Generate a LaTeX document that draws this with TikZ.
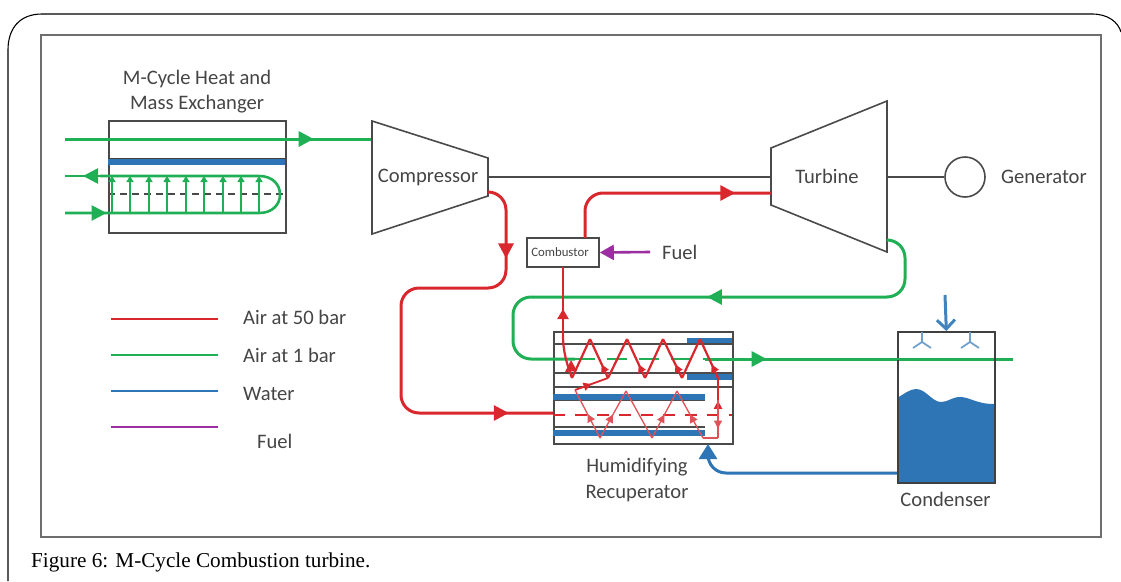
\documentclass[tikz,border=0pt]{standalone}
\usepackage{fontspec}
\setmainfont{Carlito}
\newfontfamily\capfont{Liberation Serif}
\usetikzlibrary{arrows.meta,decorations.markings}
\definecolor{rd}{HTML}{D9272E}
\definecolor{gn}{HTML}{1FAF54}
\definecolor{bl}{HTML}{2E75B6}
\definecolor{pu}{HTML}{9B2FA0}
\definecolor{gy}{HTML}{4A4A4A}
\definecolor{tx}{HTML}{454545}
\tikzset{
  x=1pt,y=-1pt,
  label text/.style={text=tx,font=\fontsize{20.6}{25}\selectfont,inner sep=0pt,align=center},
  body/.style={draw=gy,line width=1.6pt,fill=white},
  plate/.style={draw=gy,line width=1.5pt},
  air hi/.style={draw=rd,line width=3pt,rounded corners=18pt},
  air lo/.style={draw=gn,line width=3pt,rounded corners=18pt},
  water/.style={draw=bl,line width=3pt,rounded corners=18pt},
  tipat/.style 2 args={postaction={decorate,decoration={markings,mark=at position #1 with {\arrow{Triangle[length=#2,width=#2]}}}}},
  big tip/.style={tipat={#1}{15pt}},
  small tip/.style={tipat={#1}{8pt}},
  zig/.style={draw=rd,line width=2.2pt,line join=round},
  thinzig/.style={draw=rd!80!white,line width=1.3pt,line join=round},
}
\begin{document}
\begin{tikzpicture}
\useasboundingbox (0,0) rectangle (1121,581);
% page frame
\draw[black,line width=1.1pt] (8,581) -- (8,50) .. controls (8,28) and (20,14) .. (42,14) -- (1092,14) .. controls (1108,14) and (1118,22) .. (1121,32);
\node[draw=gy!80!white,line width=2.2pt,minimum width=1060pt,minimum height=502pt,inner sep=0pt,anchor=north west] (panel) at (40,34) {};
\node[anchor=west,inner sep=0pt,font=\capfont\fontsize{21.2}{24}\selectfont] (caption) at (31,562.5) {Figure 6: M-Cycle Combustion turbine.};

% Heat and mass exchanger
\node[body,minimum width=177pt,minimum height=112pt,inner sep=0pt,anchor=north west] (hx) at (108,120) {};
\node[label text,anchor=south] (hxt) at (197,113) {M-Cycle Heat and\\Mass Exchanger};
\fill[bl] (108,159) rectangle (285,165);
\draw[black!75,line width=1.2pt] (108,158.5) -- (285,158.5);
\draw[gy,line width=1.4pt,dash pattern=on 7pt off 5pt] (108,194) -- (285,194);
\coordinate (hxin) at (65,139); \coordinate (comp in) at (372,139);
\draw[air lo,big tip=0.81] (hxin) -- (comp in);
\coordinate (loopa) at (65,213); \coordinate (loopb) at (65,176);
\draw[gn,line width=2.6pt,big tip=0.1] (loopa) -- (259,213) .. controls (272,213) and (280,205) .. (280,194.5) .. controls (280,184) and (272,176) .. (259,176) -- (100,176);
\draw[gn,line width=2.6pt,-{Triangle[length=15pt,width=15pt]}] (105,176) -- (83,176);
\draw[gn,line width=2.6pt] (85,176) -- (loopb);
\foreach \i/\xx in {1/112,2/130,3/149,4/167,5/186,6/204,7/223,8/241,9/259}{
  \coordinate (ub\i) at (\xx,213); \coordinate (ut\i) at (\xx,176);
  \draw[gn,line width=2pt,-{Triangle[length=6pt,width=7pt]}] (ub\i) -- (ut\i);
}

% Compressor and turbine
\coordinate (c1) at (372,121); \coordinate (c2) at (488,158); \coordinate (c3) at (488,196); \coordinate (c4) at (372,234);
\draw[body] (c1) -- (c2) -- (c3) -- (c4) -- cycle;
\node[label text] (comp) at (428,177) {Compressor};
\coordinate (t1) at (771,148); \coordinate (t2) at (887,101); \coordinate (t3) at (887,252); \coordinate (t4) at (771,205);
\draw[body] (t1) -- (t2) -- (t3) -- (t4) -- cycle;
\node[label text] (turb) at (827,176) {Turbine};
\node[draw=gy,line width=1.6pt,circle,minimum size=40pt,inner sep=0pt] (gen) at (965,177) {};
\node[label text,anchor=west] (gent) at (1001,177) {Generator};
\coordinate (csh) at (488,177); \coordinate (tsh) at (771,177); \coordinate (tsh2) at (887,177);
\draw[plate] (csh) -- (tsh);
\draw[plate] (tsh2) -- (gen.west);

% Combustor
\node[body,minimum width=72pt,minimum height=29pt,inner sep=0pt] (comb) at (563,252.5) {};
\node[text=tx,font=\fontsize{12.8}{14}\selectfont,inner sep=0pt] (combt) at (560,252) {Combustor};
\node[label text,anchor=west] (fuel) at (662,252) {Fuel};
\coordinate (fuelst) at (650,252);
\draw[draw=pu,line width=2.6pt,-{Triangle[length=14pt,width=15pt]}] (fuelst) -- (comb.east);
\coordinate (cout) at (585,238); \coordinate (tin) at (771,193);
\draw[air hi,big tip=0.84] (cout) -- (585,193) -- (tin);

% Recuperator
\node[body,minimum width=179pt,minimum height=112pt,inner sep=0pt,anchor=north west] (rec) at (553,331) {};
\node[label text] (rect) at (637,480) {Humidifying\\Recuperator};
\fill[bl] (687,338) rectangle (732,345);
\fill[bl] (687,374) rectangle (732,380);
\fill[bl] (553,394) rectangle (705,400);
\fill[bl] (553,430) rectangle (705,436);
\foreach \yy/\xa/\xb in {344/553/732,373/553/732,387/553/732,400.5/553/705,427/553/705}{
  \draw[black!70,line width=1.3pt] (\xa,\yy) -- (\xb,\yy);
}
\draw[draw=rd,line width=2.6pt,dash pattern=on 12pt off 10pt] (553,415) -- (732,415);

% Green exhaust route
\coordinate (texh) at (887,240); \coordinate (gend) at (1013,359);
\draw[air lo,big tip=0.46] (texh) -- (905,240) -- (905,297) -- (513,297) -- (513,359) -- (575,359);
\draw[gn,line width=2.6pt,dash pattern=on 20pt off 12pt] (575,359) -- (705,359);
\draw[air lo,big tip=0.2] (705,359) -- (gend);

% Red high pressure route
\coordinate (cex) at (488,192); \coordinate (recin) at (553,413);
\draw[air hi,big tip=0.165,big tip=0.905] (cex) -- (506,192) -- (506,288) -- (401,288) -- (401,413) -- (recin);
% zigzags
\coordinate (z0) at (718,378); \coordinate (z1) at (700,339); \coordinate (z2) at (682,378);
\coordinate (z3) at (663,339); \coordinate (z4) at (645,378); \coordinate (z5) at (627,339);
\coordinate (z6) at (608,378); \coordinate (z7) at (590,339); \coordinate (z8) at (572,378);
\draw[zig,small tip=0.35] (z0) -- (z1);
\draw[zig] (z1) -- (z2);
\draw[zig,small tip=0.35] (z2) -- (z3);
\draw[zig] (z3) -- (z4);
\draw[zig,small tip=0.35] (z4) -- (z5);
\draw[zig] (z5) -- (z6);
\draw[zig,small tip=0.35] (z6) -- (z7);
\draw[zig] (z7) -- (z8);
\coordinate (z9) at (718,438); \coordinate (z10) at (703,438); \coordinate (z11) at (677,391);
\coordinate (z12) at (652,438); \coordinate (z13) at (626,391); \coordinate (z14) at (600,438);
\coordinate (z15) at (575,390);
\draw[zig,line width=1.8pt,small tip=0.5] (z15) -- (z6);
\draw[thinzig,small tip=0.5] (z14) -- (z15);
\draw[thinzig,small tip=0.5] (z14) -- (z13);
\draw[thinzig] (z13) -- (z12);
\draw[thinzig,small tip=0.5] (z12) -- (z11);
\draw[thinzig,small tip=0.5] (z10) -- (z11);
\draw[thinzig] (z9) -- (z10);
\draw[zig,small tip=0.62] (z9) -- (z0);
\draw[thinzig,small tip=0.75] (718,400) -- (z9);
% to combustor
\coordinate (cin) at (563,267);
\coordinate (ra) at (563,335);
\draw[draw=rd,line width=2.2pt] (z8) .. controls (566,362) and (563,350) .. (ra);
\draw[draw=rd,line width=2.2pt] (ra) -- (cin);
\draw[draw=rd,line width=2.2pt,-{Triangle[length=10pt,width=11pt]}] (ra) -- (563,309);
\fill[rd] (571,360) -- (565,372) -- (577,371) -- cycle;

% Condenser
\path[fill=bl] (897,398) .. controls (904,394) and (910,389) .. (916,389) .. controls (926,389) and (932,402) .. (941,402) .. controls (948,402) and (952,397) .. (960,397) .. controls (970,397) and (976,404) .. (994,404) -- (994,482) -- (897,482) -- cycle;
\node[draw=black!75,line width=1.7pt,minimum width=97pt,minimum height=151pt,inner sep=0pt,anchor=north west] (cond) at (897,331) {};
\node[label text] (condt) at (945.5,499) {Condenser};
\coordinate (wtop) at (945,295);
\draw[bl!90!white,line width=3pt,-{Straight Barb[length=9pt,width=18pt]}] (wtop) -- (cond.north);
\foreach \n/\xx in {a/922,b/970}{
  \coordinate (s\n) at (\xx,342);
  \draw[bl!70!white,line width=1.7pt] (\xx,332) -- (s\n) -- (\xx-9,348);
  \draw[bl!70!white,line width=1.7pt] (s\n) -- (\xx+9,348);
}
\coordinate (cex2) at (897,473); \coordinate (wrec) at (708,444);
\draw[water,-{Triangle[length=15pt,width=18pt]}] (cex2) -- (708,473) -- (wrec);
\draw[gn,line width=2.6pt] (897,359) -- (994,359);

% Legend
\foreach \n/\yy/\ty/\cc/\tt in {1/319/317/rd/Air at 50 bar,2/355/355/gn/Air at 1 bar,3/391/394/bl/Water}{
  \coordinate (la\n) at (111,\yy); \coordinate (lb\n) at (218,\yy);
  \draw[\cc,line width=2.6pt] (la\n) -- (lb\n);
  \node[label text,anchor=west] (lt\n) at (243,\ty) {\tt};
}
\coordinate (la4) at (111,427); \coordinate (lb4) at (218,427);
\draw[pu,line width=2.6pt] (la4) -- (lb4);
\node[label text,anchor=west] (lt4) at (257,441) {Fuel};
\end{tikzpicture}
\end{document}
